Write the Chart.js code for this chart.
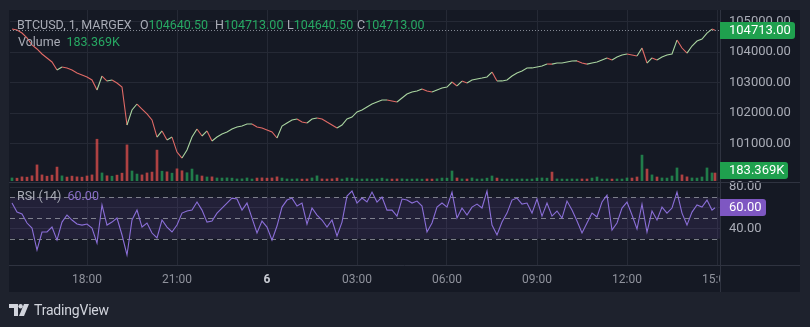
<!DOCTYPE html>
<html><head><meta charset="utf-8">
<script src="https://cdn.jsdelivr.net/npm/chart.js@4.4.1/dist/chart.umd.min.js"></script>
<style>
html,body{margin:0;padding:0;}
body{width:810px;height:327px;background:#1e222d;position:relative;overflow:hidden;font-family:Roboto,"Liberation Sans",sans-serif;}
#panel{position:absolute;left:9px;top:10px;width:791px;height:282px;background:#151924;}
canvas{position:absolute;left:0;}
#cA{top:0;}
#cB{top:181px;}
.t{position:absolute;white-space:nowrap;font-size:12.5px;line-height:14px;color:#a9acb6;}
.g{color:#27a863;}
.p{color:#8a6fc9;}
#logo{position:absolute;left:9px;top:302px;display:flex;align-items:center;color:#d1d4dc;font-size:14px;letter-spacing:-0.2px;}
#logo svg{margin-right:5px;}
</style></head><body>
<div id="panel"></div>
<canvas id="cA" width="800" height="182"></canvas>
<canvas id="cB" width="800" height="111"></canvas>
<div id="hdr"></div>
<div id="logo"><svg width="20" height="13" viewBox="0 0 20 13"><path d="M0 0h9v12H5V4H0z" fill="#d1d4dc"/><circle cx="11.6" cy="2.2" r="2.2" fill="#d1d4dc"/><path d="M15 0h5l-5 12h-5z" fill="#d1d4dc"/></svg><span>TradingView</span></div>
<script>
// ---- data ----
const symbolTitle = 'BTCUSD, 1, MARGEX';
const ohlcKeys = ['O','H','L','C'];
const ohlcValues = [104640.50, 104713.00, 104640.50, 104713.00];
const tickMinutes = [-360,-180,0,180,360,540,720,900];
const tickLabels = ['18:00','21:00','6','03:00','06:00','09:00','12:00','15:00'];
const priceTicks = [101000,102000,103000,104000,105000];
const rsiTicks = [40,60,80];
const rsiBands = [70,50,30];
const startMinute = -510, stepMinutes = 10, lastMinute = 896;
const prices = [
104750,104720,104620,104460,104230,104100,103935,103805,103675,103410,
103510,103480,103410,103315,103250,103185,103085,102760,103215,103050,
103085,102985,102855,101615,102105,102300,102135,101975,101780,101220,
101420,101125,101220,100730,100535,100795,101220,101485,101255,101420,
101090,101220,101320,101385,101485,101550,101580,101645,101645,101550,
101515,101450,101385,101190,101580,101680,101780,101810,101710,101680,
101810,101845,101810,101710,101615,101515,101615,101810,101875,102040,
102105,102205,102300,102365,102430,102430,102400,102365,102495,102625,
102695,102725,102790,102725,102695,102760,102825,102855,103020,102890,
103050,102985,103085,103120,103150,103185,103345,103050,103055,103085,
103215,103315,103380,103475,103480,103510,103540,103610,103605,103640,
103640,103675,103705,103710,103640,103605,103640,103675,103740,103805,
103740,103835,103900,103935,103905,103870,104130,103640,103805,103740,
103835,103900,103935,104390,104130,103965,104195,104360,104425,104620,
104750,104713];
const volumesK = [
70,65,95,88,120,370,140,110,135,320,
118,90,112,95,88,115,140,960,185,120,
110,135,180,830,230,160,140,185,205,710,
225,210,180,280,235,190,275,140,115,92,
95,70,68,72,66,48,50,70,46,68,
72,66,70,95,68,48,45,50,44,47,
70,118,48,46,50,68,45,70,66,48,
46,50,44,48,66,46,45,48,50,44,
46,48,44,47,45,50,68,66,230,70,
48,46,70,45,48,66,115,68,46,44,
46,45,48,44,46,68,70,66,205,48,
46,44,48,45,47,46,68,92,46,48,
45,47,46,70,68,92,595,275,140,92,
70,68,115,300,140,95,70,68,92,300,
185,183.369];
const rsiValues = [
64.5,55.8,53.9,45.2,40.3,19.1,36.5,36.5,41.3,28.7,
46.1,52.9,48.1,44.2,43.2,44.2,40.3,25.8,62.6,43.2,
46.1,50.0,33.6,14.3,48.1,57.7,41.3,45.2,35.5,30.7,
48.1,41.3,36.5,43.2,54.8,56.8,57.7,65.5,57.7,46.1,
47.1,54.8,59.7,64.5,69.3,68.4,57.7,64.5,50.0,35.5,
47.1,41.3,28.7,42.3,60.6,67.4,69.3,61.6,64.5,44.2,
59.7,52.9,48.1,41.3,48.1,32.6,46.1,71.3,76.1,64.5,
69.3,65.5,75.1,65.5,70.3,57.7,57.7,51.9,68.4,67.4,
64.5,66.4,61.6,36.5,45.2,60.6,64.5,60.6,75.1,50.0,
59.7,52.9,60.6,63.5,59.7,76.1,43.2,33.6,46.1,54.8,
67.4,69.3,63.5,64.5,54.8,68.4,51.9,64.5,51.9,56.8,
50.0,66.4,57.7,47.1,35.5,45.2,54.8,51.0,65.5,72.2,
38.4,45.2,59.7,65.5,52.9,39.4,63.5,36.5,56.8,48.1,
60.6,54.8,59.7,75.1,54.8,43.2,55.8,62.6,60.6,67.4,
57.7,60.0];
const times = prices.map((_, i) => i === prices.length - 1 ? lastMinute : startMinute + i * stepMinutes);

// ---- styles ----
const FAM = 'Roboto, "Liberation Sans", sans-serif';
const GRID = '#252935', SEP = '#2f3340', TXT = '#a9acb6', PANEL = '#151924';
const UP = '#a9d4a0', DOWN = '#e06a66';
const VUP = 'rgba(38,166,91,0.7)', VDOWN = 'rgba(239,83,80,0.7)';
const GREEN = '#1fa04e', PURPLE = '#7e57c2';
const lastPrice = prices[prices.length - 1];
const lastVol = volumesK[volumesK.length - 1];
const lastRsi = rsiValues[rsiValues.length - 1];

// ---- header text ----
const hdr = document.getElementById('hdr');
function addText(left, top, html) {
  const d = document.createElement('div'); d.className = 't';
  d.style.left = left + 'px'; d.style.top = top + 'px'; d.innerHTML = html; hdr.appendChild(d);
}
addText(17, 18, symbolTitle);
const ohlcLeft = [140, 215, 287, 357];
ohlcKeys.forEach((k, i) => addText(ohlcLeft[i], 18, k + '<span class="g">' + ohlcValues[i].toFixed(2) + '</span>'));
addText(18, 35, 'Volume&nbsp;&nbsp;<span class="g">' + lastVol.toFixed(3) + 'K</span>');
addText(17, 189, 'RSI (14)&nbsp;&nbsp;<span class="p">' + lastRsi.toFixed(2) + '</span>');

function box(ctx, x, yc, w, h, color, text) {
  ctx.save();
  ctx.fillStyle = color;
  const y = Math.round(yc - h / 2);
  ctx.beginPath();
  if (ctx.roundRect) ctx.roundRect(x, y, w, h, [0, 3, 3, 0]); else ctx.rect(x, y, w, h);
  ctx.fill();
  ctx.fillStyle = '#ffffff';
  ctx.font = '13px ' + FAM;
  ctx.textBaseline = 'middle';
  ctx.textAlign = 'left';
  ctx.fillText(text, x + 9, y + h / 2 + 0.5);
  ctx.restore();
}

const noPad = s => { s.paddingTop = 0; s.paddingBottom = 0; s.paddingLeft = 0; s.paddingRight = 0; };

const pricePlugin = {
  id: 'pricePlugin',
  afterDatasetsDraw(chart) {
    const { ctx, chartArea: a, scales } = chart;
    const y = Math.round(scales.y.getPixelForValue(lastPrice)) + 0.5;
    ctx.save();
    ctx.strokeStyle = 'rgba(170,175,185,0.75)';
    ctx.setLineDash([1, 2]);
    ctx.lineWidth = 1;
    ctx.beginPath(); ctx.moveTo(a.left, y); ctx.lineTo(a.right, y); ctx.stroke();
    ctx.restore();
  },
  afterDraw(chart) {
    const { ctx, chartArea: a, scales } = chart;
    box(ctx, a.right, scales.y.getPixelForValue(lastPrice), 75, 17, GREEN, lastPrice.toFixed(2));
    let yv = scales.yv.getPixelForValue(lastVol);
    yv = Math.min(yv, a.bottom - 10.5);
    box(ctx, a.right, yv, 68, 17, GREEN, lastVol.toFixed(3) + 'K');
  }
};

const rsiPlugin = {
  id: 'rsiPlugin',
  beforeDatasetsDraw(chart) {
    const { ctx, chartArea: a, scales: { y } } = chart;
    const yt = y.getPixelForValue(rsiBands[0]), yb = y.getPixelForValue(rsiBands[2]);
    ctx.save();
    ctx.fillStyle = 'rgba(126,87,194,0.13)';
    ctx.fillRect(a.left, yt, a.right - a.left, yb - yt);
    ctx.strokeStyle = 'rgba(190,193,200,0.6)';
    ctx.setLineDash([5, 4]);
    ctx.lineWidth = 1;
    rsiBands.forEach(v => {
      const yy = Math.round(y.getPixelForValue(v)) + 0.5;
      ctx.beginPath(); ctx.moveTo(a.left, yy); ctx.lineTo(a.right, yy); ctx.stroke();
    });
    ctx.restore();
  },
  afterDraw(chart) {
    const { ctx, chartArea: a, scales: { y }, width, height } = chart;
    ctx.save();
    ctx.fillStyle = PANEL;
    ctx.fillRect(a.right + 1, a.bottom + 1, width - a.right, height - a.bottom);
    ctx.strokeStyle = SEP; ctx.lineWidth = 1;
    ctx.beginPath();
    ctx.moveTo(9, a.top - 0.5); ctx.lineTo(width, a.top - 0.5);
    ctx.moveTo(9, a.bottom + 0.5); ctx.lineTo(width, a.bottom + 0.5);
    ctx.moveTo(a.right + 0.5, a.bottom); ctx.lineTo(a.right + 0.5, height);
    ctx.stroke();
    ctx.restore();
    box(ctx, a.right, y.getPixelForValue(lastRsi), 46, 17, PURPLE, lastRsi.toFixed(2));
  }
};

Chart.defaults.font.family = FAM;

new Chart(document.getElementById('cA'), {
  type: 'line',
  data: {
    datasets: [
      {
        type: 'line', yAxisID: 'y', order: 1,
        data: times.map((t, i) => ({ x: t, y: prices[i] })),
        borderColor: UP, borderWidth: 1.1, pointRadius: 0, tension: 0,
        segment: { borderColor: c => c.p1.parsed.y >= c.p0.parsed.y ? UP : DOWN }
      },
      {
        type: 'bar', yAxisID: 'yv', order: 2,
        data: times.map((t, i) => ({ x: t, y: volumesK[i] })),
        barThickness: 2,
        backgroundColor: volumesK.map((_, i) => (i === 0 || prices[i] >= prices[i - 1]) ? VUP : VDOWN)
      }
    ]
  },
  options: {
    responsive: false, animation: false, devicePixelRatio: 1,
    layout: { padding: { left: 10, top: 10, right: 0, bottom: 1 } },
    plugins: { legend: { display: false }, tooltip: { enabled: false } },
    scales: {
      x: {
        type: 'linear', min: -514, max: 906, offset: false,
        afterBuildTicks: s => { s.ticks = tickMinutes.map(v => ({ value: v })); },
        afterFit: s => { s.height = 0; noPad(s); },
        ticks: { display: false },
        grid: { color: GRID, drawTicks: false, offset: false },
        border: { display: false }
      },
      y: {
        position: 'right', min: 99784, max: 105373,
        afterBuildTicks: s => { s.ticks = priceTicks.map(v => ({ value: v })); },
        afterFit: s => { s.width = 80; noPad(s); },
        ticks: { color: TXT, font: { size: 13 }, padding: 9, callback: v => Number(v).toFixed(2) },
        grid: { color: GRID, drawTicks: false },
        border: { color: SEP }
      },
      yv: { display: false, min: 0, max: 3930 }
    }
  },
  plugins: [pricePlugin]
});

new Chart(document.getElementById('cB'), {
  type: 'line',
  data: {
    datasets: [{
      data: times.map((t, i) => ({ x: t, y: rsiValues[i] })),
      borderColor: '#8b6fd8', borderWidth: 1.1, pointRadius: 0, tension: 0
    }]
  },
  options: {
    responsive: false, animation: false, devicePixelRatio: 1,
    layout: { padding: { left: 10, top: 2, right: 0, bottom: 0 } },
    plugins: { legend: { display: false }, tooltip: { enabled: false } },
    scales: {
      x: {
        type: 'linear', min: -514, max: 906, offset: false,
        afterBuildTicks: s => { s.ticks = tickMinutes.map(v => ({ value: v })); },
        afterFit: s => { s.height = 27; noPad(s); },
        ticks: {
          padding: 8, maxRotation: 0, autoSkip: false,
          callback: (v, i) => tickLabels[i],
          color: c => (c.tick && c.tick.value === 0) ? '#c8cbd3' : '#8f929c',
          font: c => (c.tick && c.tick.value === 0) ? { size: 12, weight: 'bold' } : { size: 12 }
        },
        grid: { color: GRID, drawTicks: false, offset: false },
        border: { display: false }
      },
      y: {
        position: 'right', min: 4.6, max: 83.9,
        afterBuildTicks: s => { s.ticks = rsiTicks.map(v => ({ value: v })); },
        afterFit: s => { s.width = 80; noPad(s); },
        ticks: { color: TXT, font: { size: 13 }, padding: 9, callback: v => Number(v).toFixed(2) },
        grid: { color: GRID, drawTicks: false },
        border: { color: SEP }
      }
    }
  },
  plugins: [rsiPlugin]
});
</script>
</body></html>
